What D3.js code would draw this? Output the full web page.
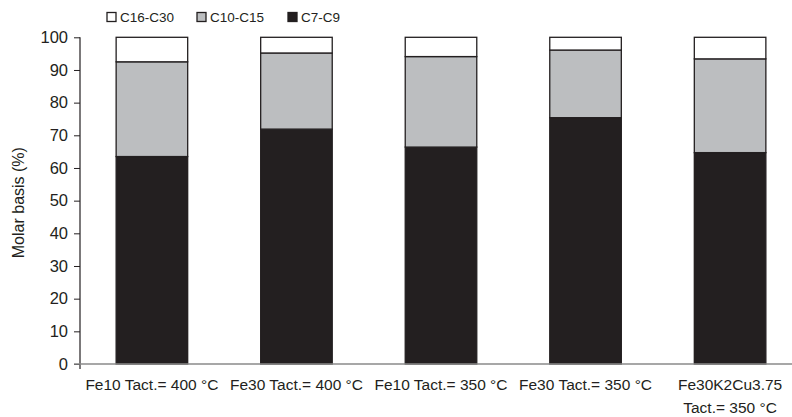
<!DOCTYPE html>
<html>
<head>
<meta charset="utf-8">
<script src="https://cdn.jsdelivr.net/npm/d3@7"></script>
<style>
  html, body { margin: 0; padding: 0; background: #fff; }
  svg { display: block; }
  text { font-family: "Liberation Sans", Arial, sans-serif; fill: #231f20; }
</style>
</head>
<body>
<svg id="chart" width="792" height="417"></svg>
<script>
// Catalyst / activation conditions (each label may span several lines)
const categories = [
  ["Fe10 Tact.= 400 °C"],
  ["Fe30 Tact.= 400 °C"],
  ["Fe10 Tact.= 350 °C"],
  ["Fe30 Tact.= 350 °C"],
  ["Fe30K2Cu3.75", "Tact.= 350 °C"]
];

// Product distribution, molar basis (%)
const c7c9   = [63.5, 71.9, 66.4, 75.4, 64.7];
const c10c15 = [29.0, 23.3, 27.7, 20.7, 28.7];
const c16c30 = [7.5, 4.8, 5.9, 3.9, 6.6];

const seriesNames = ["C7-C9", "C10-C15", "C16-C30"];
const legendOrder = ["C16-C30", "C10-C15", "C7-C9"];
const yTicks = [0, 10, 20, 30, 40, 50, 60, 70, 80, 90, 100];

const colors = { "C7-C9": "#231f20", "C10-C15": "#bcbec0", "C16-C30": "#ffffff" };

const rows = categories.map((c, i) => ({
  key: i,
  "C7-C9": c7c9[i],
  "C10-C15": c10c15[i],
  "C16-C30": c16c30[i]
}));

const svg = d3.select("#chart");
const margin = { left: 80, top: 37.3, bottom: 364 };

const x = d3.scaleBand()
  .domain(rows.map(d => d.key))
  .range([margin.left, margin.left + 722])
  .paddingInner(0.505)
  .paddingOuter(0.25);

const y = d3.scaleLinear().domain([0, 100]).range([margin.bottom, margin.top]);

const stack = d3.stack().keys(seriesNames)(rows);

// Stacked bars
const layer = svg.append("g").selectAll("g")
  .data(stack)
  .join("g")
  .attr("fill", d => colors[d.key]);

layer.selectAll("rect")
  .data(d => d)
  .join("rect")
  .attr("x", d => x(d.data.key))
  .attr("width", x.bandwidth())
  .attr("y", d => y(d[1]))
  .attr("height", d => y(d[0]) - y(d[1]))
  .attr("stroke", "#231f20")
  .attr("stroke-width", 1.3);

// Y axis
const yAxis = d3.axisLeft(y).tickValues(yTicks).tickSize(6).tickPadding(6);
const yg = svg.append("g")
  .attr("transform", `translate(${margin.left},0)`)
  .call(yAxis);
yg.select(".domain").remove();
yg.selectAll(".tick line").attr("stroke", "#231f20").attr("stroke-width", 1);
yg.selectAll(".tick text")
  .style("font-size", "16.5px")
  .style("font-family", "'Liberation Sans', Arial, sans-serif")
  .attr("fill", "#231f20");

svg.append("line")
  .attr("x1", margin.left).attr("x2", margin.left)
  .attr("y1", y(100)).attr("y2", y(0) + 5)
  .attr("stroke", "#231f20").attr("stroke-width", 1.2);

// X axis baseline
svg.append("line")
  .attr("x1", margin.left - 6).attr("x2", 792)
  .attr("y1", y(0)).attr("y2", y(0))
  .attr("stroke", "#8a8a8a").attr("stroke-width", 1.6);

// Category labels
const xl = svg.append("g").selectAll("text")
  .data(categories.map((c, i) => ({ lines: c, key: i })))
  .join("text")
  .attr("text-anchor", "middle")
  .style("font-size", "15.5px")
  .attr("x", d => x(d.key) + x.bandwidth() / 2)
  .attr("y", 390);
xl.selectAll("tspan")
  .data(d => d.lines.map(l => ({ l, cx: x(d.key) + x.bandwidth() / 2 })))
  .join("tspan")
  .attr("x", d => d.cx)
  .attr("dy", (d, i) => i === 0 ? 0 : 23)
  .text(d => d.l);

// Y axis title
svg.append("text")
  .attr("transform", `translate(24,${(y(0) + y(100)) / 2 + 2}) rotate(-90)`)
  .attr("text-anchor", "middle")
  .style("font-size", "16px")
  .text("Molar basis (%)");

// Legend
const legendX = [107, 197, 288];
const lg = svg.append("g").selectAll("g")
  .data(legendOrder)
  .join("g")
  .attr("transform", (d, i) => `translate(${legendX[i]},17)`);
lg.append("rect")
  .attr("x", 0).attr("y", -4.5)
  .attr("width", 9).attr("height", 9)
  .attr("fill", d => colors[d])
  .attr("stroke", "#231f20").attr("stroke-width", 1.3);
lg.append("text")
  .attr("x", 13).attr("y", 0)
  .attr("dy", "0.35em")
  .style("font-size", "13.5px")
  .text(d => d);
</script>
</body>
</html>
